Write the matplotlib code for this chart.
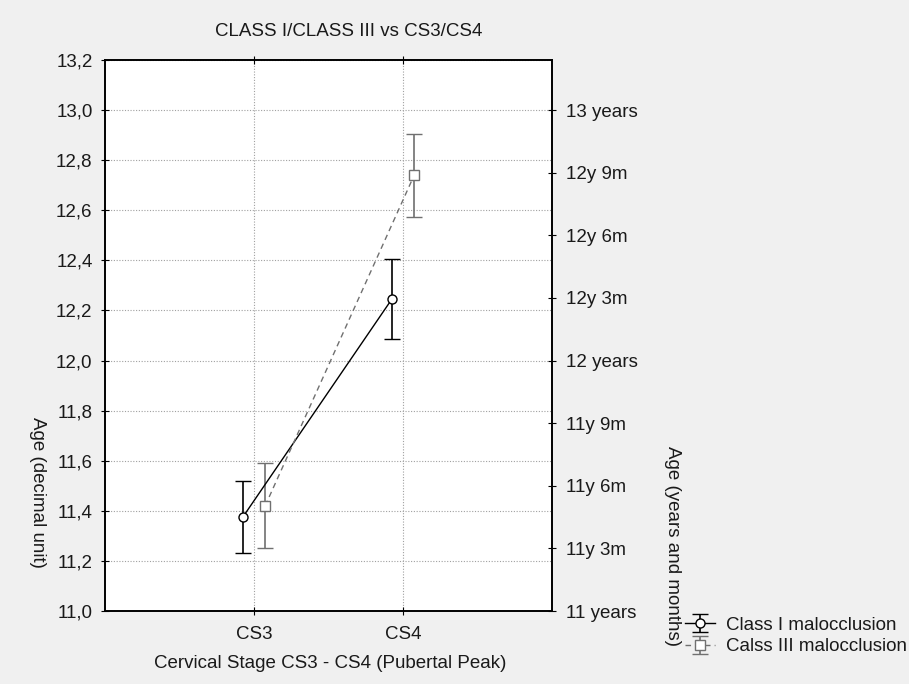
import matplotlib
matplotlib.use("Agg")
import matplotlib.pyplot as plt
from matplotlib.ticker import FuncFormatter, FixedLocator

stages = ["CS3", "CS4"]
class1_mean = [11.375, 12.245]
class1_err = [0.145, 0.16]
class3_mean = [11.42, 12.74]
class3_err = [0.17, 0.165]
left_ticks = [11.0, 11.2, 11.4, 11.6, 11.8, 12.0, 12.2, 12.4, 12.6, 12.8, 13.0, 13.2]
right_tick_vals = [11.0, 11.25, 11.5, 11.75, 12.0, 12.25, 12.5, 12.75, 13.0]
right_tick_labels = ["11 years", "11y 3m", "11y 6m", "11y 9m", "12 years",
                     "12y 3m", "12y 6m", "12y 9m", "13 years"]
series_names = ["Class I malocclusion", "Calss III malocclusion"]

plt.rcParams['font.family'] = ['Liberation Sans', 'DejaVu Sans']
fs = 13.5
txt = "#1a1a1a"

fig = plt.figure(figsize=(9.09, 6.84), dpi=100, facecolor="#f0f0f0")
ax = fig.add_axes([105/909, 1 - 611/684, (552-105)/909, (611-60)/684])
ax.set_facecolor("white")

x = [1, 2]
off = 0.075
x1 = [v - off for v in x]
x3 = [v + off for v in x]

h1 = ax.errorbar(x1, class1_mean, yerr=class1_err, color="black", lw=1.0,
                 marker="o", ms=6.5, mfc="white", mec="black", mew=1.0,
                 capsize=6, capthick=1.2, elinewidth=1.2, ls="-", zorder=3)
h3 = ax.errorbar(x3, class3_mean, yerr=class3_err, color="#707070", lw=1.0,
                 marker="s", ms=7, mfc="white", mec="#707070", mew=1.0,
                 capsize=6, capthick=1.2, elinewidth=1.2, ls=(0, (4, 3)), zorder=3)

ax.set_xlim(0, 3)
ax.set_ylim(11.0, 13.2)
ax.set_xticks(x)
ax.set_xticklabels(stages, fontsize=fs, color=txt)
ax.yaxis.set_major_locator(FixedLocator(left_ticks))
ax.yaxis.set_major_formatter(FuncFormatter(lambda v, p: f"{v:.1f}".replace(".", ",")))
ax.tick_params(axis="both", direction="inout", length=6, labelsize=fs, labelcolor=txt,
               top=True, pad=6)
ax.tick_params(axis="x", pad=8)
ax.grid(True, color="#a0a0a0", ls=(0, (1, 1.5)), lw=0.8)
ax.set_axisbelow(True)
for s in ax.spines.values():
    s.set_linewidth(1.2)
    s.set_color("black")

ax2 = ax.twinx()
ax2.set_ylim(11.0, 13.2)
ax2.set_yticks(right_tick_vals)
ax2.set_yticklabels(right_tick_labels, fontsize=fs, color=txt)
ax2.tick_params(axis="y", direction="inout", length=6, pad=7)
for s in ax2.spines.values():
    s.set_linewidth(1.2)

fig.text(349/909, 1 - 31/684, "CLASS I/CLASS III vs CS3/CS4", ha="center", va="center", fontsize=fs, color=txt)
fig.text(330/909, 1 - 663/684, "Cervical Stage CS3 - CS4 (Pubertal Peak)", ha="center", va="center", fontsize=fs, color=txt)
fig.text(37/909, 1 - 492/684, "Age (decimal unit)", ha="center", va="center", rotation=-90, fontsize=fs, color=txt)
fig.text(672/909, 1 - 546/684, "Age (years and months)", ha="center", va="center", rotation=-90, fontsize=fs, color=txt)

leg = fig.legend([h1, h3], series_names, loc="center left",
                 bbox_to_anchor=(685/909, 1 - 636/684), frameon=False,
                 fontsize=fs, handlelength=1.6, handletextpad=0.6,
                 labelspacing=0.25, borderpad=0, borderaxespad=0, labelcolor=txt)

fig.savefig("out.png", dpi=100, facecolor=fig.get_facecolor())
